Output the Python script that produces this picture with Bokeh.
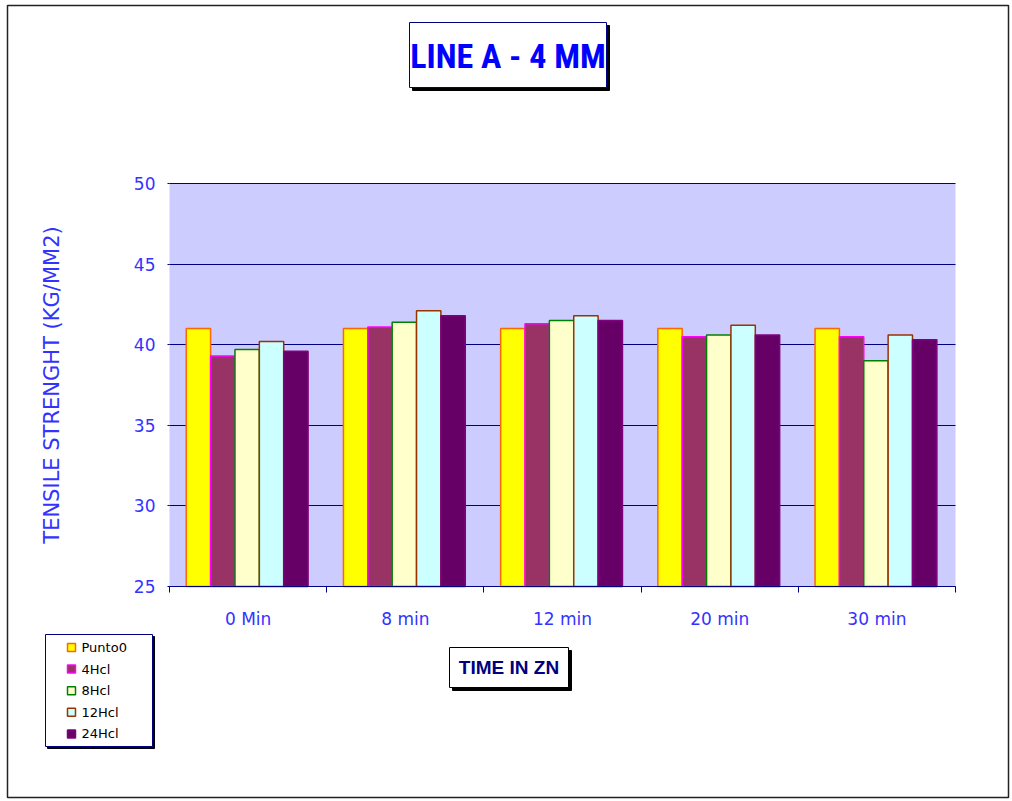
from bokeh.plotting import figure
from bokeh.models import (ColumnDataSource, Range1d, LinearAxis, FixedTicker, BoxAnnotation,
                          Label, Grid)
from bokeh.transform import dodge
from bokeh.embed import file_html
from bokeh.resources import INLINE

# ---------------- data ----------------
categories = ["0 Min", "8 min", "12 min", "20 min", "30 min"]
series_names = ["Punto0", "4Hcl", "8Hcl", "12Hcl", "24Hcl"]
punto0 = [41.0, 41.0, 41.0, 41.0, 41.0]
hcl4 = [39.3, 41.1, 41.3, 40.5, 40.5]
hcl8 = [39.7, 41.4, 41.5, 40.6, 39.0]
hcl12 = [40.2, 42.1, 41.8, 41.2, 40.6]
hcl24 = [39.6, 41.8, 41.5, 40.6, 40.3]
y_ticks = [25, 30, 35, 40, 45, 50]

title_text = "LINE A - 4 MM"
x_title = "TIME IN ZN"
y_title = "TENSILE STRENGHT (KG/MM2)"

# ---------------- styles ----------------
fills = ["#FFFF00", "#993366", "#FFFFCC", "#CCFFFF", "#660066"]
lines = ["#FF6600", "#FF00FF", "#008000", "#993300", "#800080"]
BLUE = "#3333FF"
NAVY = "#000080"
TXT_FONT = "DejaVu Sans"

# plot-area position on the canvas (pixels)
FL, FR, FT, FB = 169, 955, 183, 586
Y0, Y1 = y_ticks[0], y_ticks[-1]
NCAT = len(categories)
cat_pos = [i + 0.5 for i in range(NCAT)]
W, H = 1010, 800


def fx(px):
    return (px - FL) / (FR - FL) * NCAT


def fy(py):
    return Y1 - (py - FT) / (FB - FT) * (Y1 - Y0)


# the frame covers the whole canvas; the plot area is a region of it
p = figure(x_range=Range1d(fx(0), fx(W)), y_range=Range1d(fy(H), fy(0)),
           width=W, height=H, output_backend="svg", toolbar_location=None,
           x_axis_location=None, y_axis_location=None, title=None,
           min_border_left=0, min_border_right=0, min_border_top=0, min_border_bottom=0)
p.background_fill_color = "white"
p.border_fill_color = "white"
p.outline_line_color = None
for g in p.grid:
    g.visible = False


def box(l, t, r, b, fill="white", line=NAVY, lw=1.0, level="annotation"):
    bx = BoxAnnotation(left=fx(l), right=fx(r), top=fy(t), bottom=fy(b),
                       fill_color=fill if fill else "white", fill_alpha=1.0 if fill else 0.0,
                       line_color=line if line else "black", line_width=lw,
                       line_alpha=1.0 if line else 0.0, level=level)
    p.add_layout(bx)
    return bx


# plot area background
p.add_layout(BoxAnnotation(left=0, right=NCAT, bottom=Y0, top=Y1, fill_color="#CCCCFF",
                           fill_alpha=1.0, line_alpha=0.0, level="image"))

# horizontal grid lines limited to the plot area
if "cross_bounds" in Grid.properties():
    grid = Grid(dimension=1, ticker=FixedTicker(ticks=y_ticks), grid_line_color=NAVY,
                grid_line_width=1, cross_bounds=(0, NCAT))
    p.add_layout(grid)
else:
    p.segment(x0=0, x1=NCAT, y0=y_ticks, y1=y_ticks, line_color=NAVY, line_width=1)

# y axis
ya = LinearAxis(fixed_location=0, bounds=(Y0, Y1), ticker=FixedTicker(ticks=y_ticks),
                axis_line_color=None, major_tick_out=2, major_tick_in=0,
                major_tick_line_color=NAVY, minor_tick_line_color=None,
                major_label_text_color=BLUE, major_label_text_font=TXT_FONT,
                major_label_text_font_size="17px", major_label_standoff=12,
                axis_label=y_title, axis_label_text_color=BLUE,
                axis_label_text_font=TXT_FONT, axis_label_text_font_size="21px",
                axis_label_text_font_style="normal", axis_label_standoff=67)
p.add_layout(ya, "left")

# x axis: boundary (minor) ticks and category labels at the centres
xa = LinearAxis(fixed_location=Y0, bounds=(0, NCAT),
                ticker=FixedTicker(ticks=cat_pos, minor_ticks=list(range(NCAT + 1))),
                major_label_overrides={c: n for c, n in zip(cat_pos, categories)},
                axis_line_color=NAVY, axis_line_width=1,
                major_tick_line_color=None, major_tick_out=0, major_tick_in=0,
                minor_tick_line_color=NAVY, minor_tick_out=6, minor_tick_in=0,
                major_label_text_color=BLUE, major_label_text_font=TXT_FONT,
                major_label_text_font_size="17px", major_label_standoff=16)
p.add_layout(xa, "below")

# bars
src = ColumnDataSource(dict(pos=cat_pos, cats=categories, punto0=punto0, hcl4=hcl4,
                            hcl8=hcl8, hcl12=hcl12, hcl24=hcl24))
keys = ["punto0", "hcl4", "hcl8", "hcl12", "hcl24"]
bw = 0.155
for i, k in enumerate(keys):
    off = (i - 2) * bw - 0.006
    p.vbar(x=dodge("pos", off), top=k, bottom=Y0, width=bw, source=src,
           fill_color=fills[i], line_color=lines[i], line_width=1.5)

# outer border of the chart area
box(7, 5, 1008, 797, fill=None, line="#222222", lw=1.5)

# title box with shadow
box(412, 25, 609, 90, fill="black", line="black")
box(409, 22, 606, 87, fill="white", line=NAVY)
p.add_layout(Label(x=fx(507.5), y=fy(55), text=title_text, text_align="center",
                   text_baseline="middle", text_color="#0000FF",
                   text_font="'Liberation Sans Narrow', 'Roboto Condensed', 'Liberation Sans', sans-serif",
                   text_font_style="bold", text_font_size="34px"))

# x-axis title box with shadow
box(452, 650, 571, 690, fill="black", line="black")
box(449, 647, 568, 687, fill="white", line="black")
p.add_layout(Label(x=fx(508.5), y=fy(667), text=x_title, text_align="center",
                   text_baseline="middle", text_color=NAVY,
                   text_font="Liberation Sans", text_font_style="bold",
                   text_font_size="19px"))

# legend (drawn by hand, with shadow)
box(47, 636, 154, 748, fill="black", line="black")
box(45, 634, 152, 746, fill="white", line=NAVY)
for i, name in enumerate(series_names):
    cy = 647 + i * 21.6
    box(67, cy - 4, 75, cy + 4, fill=fills[i], line=lines[i], lw=1.5)
    p.add_layout(Label(x=fx(81), y=fy(cy), text=name, text_align="left",
                       text_baseline="middle", text_color="black",
                       text_font=TXT_FONT, text_font_size="13px"))

open("out.html", "w").write(file_html(p, INLINE))
